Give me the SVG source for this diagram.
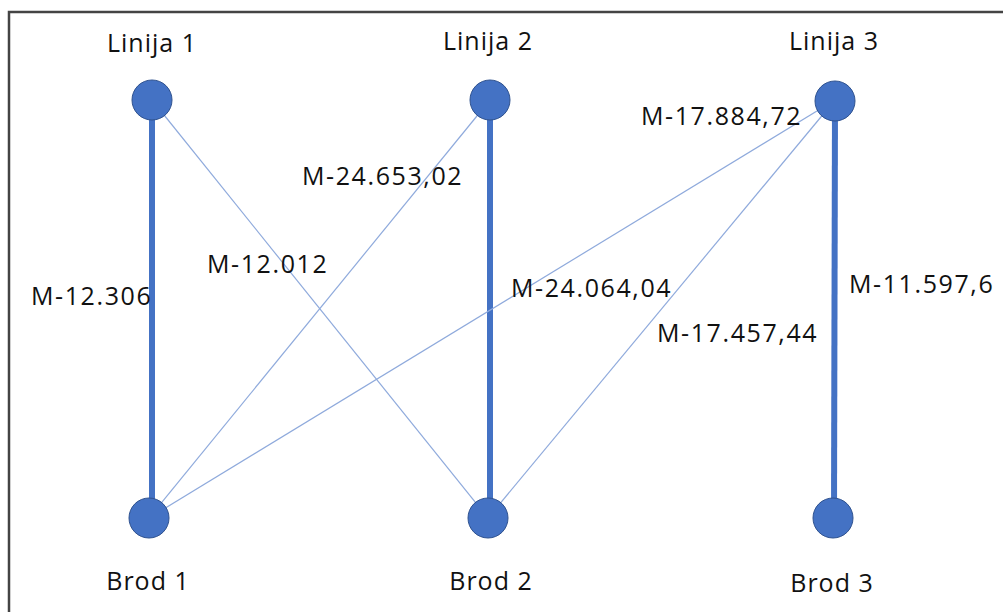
<svg xmlns="http://www.w3.org/2000/svg" width="1003" height="612" viewBox="0 0 1003 612">
<style>
.node{fill:#4472C4;stroke:#2F528F;stroke-width:1}
.thick{stroke:#4472C4;stroke-width:6}
.thin{stroke:#8FAADC;stroke-width:1.2}
text{font-family:"Open Sans","Liberation Sans",sans-serif;font-size:25px;fill:#111}
.nl{text-anchor:middle;letter-spacing:1px}
.el{font-size:25px;letter-spacing:1.6px}
</style>
<rect width="1003" height="612" fill="#fff"/>
<path d="M9 612V12H1003" fill="none" stroke="#444" stroke-width="2.5"/>
<g id="connectors">
<line class="thick" x1="152" y1="100" x2="152" y2="518"/>
<line class="thick" x1="490" y1="100" x2="490" y2="518"/>
<line class="thick" x1="835" y1="100" x2="834" y2="518"/>
<line class="thin" x1="152" y1="100" x2="488" y2="518"/>
<line class="thin" x1="490" y1="100" x2="149" y2="518"/>
<line class="thin" x1="835" y1="100" x2="149" y2="518"/>
<line class="thin" x1="835" y1="100" x2="488" y2="518"/>
<text class="el" x="31" y="305">M-12.306</text>
<text class="el" x="207" y="273">M-12.012</text>
<text class="el" x="302" y="185">M-24.653,02</text>
<text class="el" x="511" y="297">M-24.064,04</text>
<text class="el" x="657" y="342">M-17.457,44</text>
<text class="el" x="849" y="293">M-11.597,6</text>
<text class="el" x="641" y="125">M-17.884,72</text>
</g>
<g id="linija1"><circle class="node" cx="152" cy="100" r="20"/><text class="nl" x="152" y="52">Linija 1</text></g>
<g id="linija2"><circle class="node" cx="490" cy="100" r="20"/><text class="nl" x="488" y="50">Linija 2</text></g>
<g id="linija3"><circle class="node" cx="835" cy="101" r="20"/><text class="nl" x="834" y="50">Linija 3</text></g>
<g id="brod1"><circle class="node" cx="149" cy="518" r="20"/><text class="nl" x="148" y="590">Brod 1</text></g>
<g id="brod2"><circle class="node" cx="488" cy="518" r="20"/><text class="nl" x="491" y="590">Brod 2</text></g>
<g id="brod3"><circle class="node" cx="833" cy="518" r="20"/><text class="nl" x="832" y="592">Brod 3</text></g>
</svg>
